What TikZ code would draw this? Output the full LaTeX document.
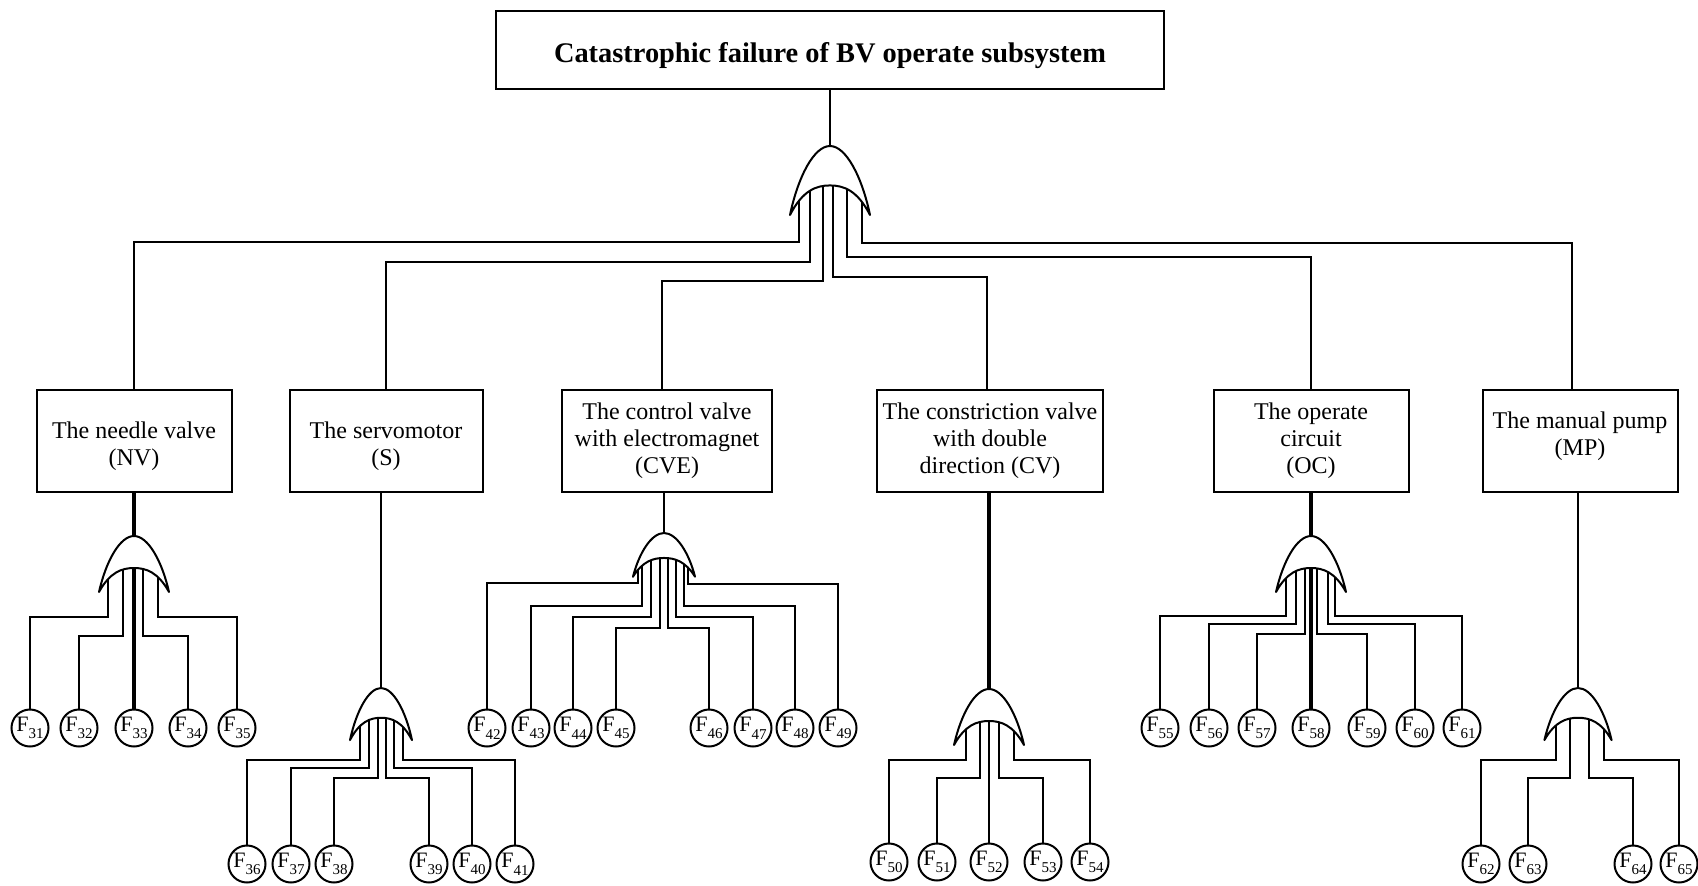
\documentclass[tikz,border=0pt]{standalone}
\usepackage{fontspec}
\setmainfont{Liberation Serif}
\usetikzlibrary{calc}

\newcommand{\fl}[1]{F\raisebox{-3.8pt}{\fontsize{7.5}{8}\selectfont #1}}

\begin{document}
\begin{tikzpicture}[x=0.5pt,y=-0.5pt,line width=1pt,
    unit/.style={draw,align=center,inner sep=2pt,minimum height=51pt,
      font=\fontsize{12}{13.5}\selectfont},
    fault/.style={draw,circle,inner sep=0pt,minimum size=18.5pt,
      font=\fontsize{11}{12}\selectfont},
    heavy/.style={line width=1.7pt},
    orgate/.pic={
      \filldraw[fill=white,line join=round] (-35,56)
        .. controls (-28,25) and (-14,0) .. (0,0)
        .. controls (14,0) and (28,25) .. (35,56)
        .. controls (24,36) and (12,32) .. (0,32)
        .. controls (-12,32) and (-24,36) .. cycle;}]
  \useasboundingbox (0,0) rectangle (1698,885);

  % Top event
  \node[draw,minimum width=334pt,minimum height=39pt,
    font=\fontsize{14.2}{16}\selectfont\bfseries] (top) at (830,50)
    {\rule{0pt}{15.2pt}Catastrophic failure of BV operate subsystem};
  \coordinate (gT) at (830,146);

  % Subsystems
  \node[unit,minimum width=97.5pt] (nv) at (134,441) {\rule{0pt}{13.6pt}The needle valve\\(NV)};
  \node[unit,minimum width=96.5pt] (s) at (386,441) {\rule{0pt}{13.6pt}The servomotor\\(S)};
  \node[unit,minimum width=105pt] (cve) at (667,441) {The control valve\\with electromagnet\\(CVE)};
  \node[unit,minimum width=113pt] (cv) at (990,441) {The constriction valve\\with double\\direction (CV)};
  \node[unit,minimum width=97.5pt] (oc) at (1311,441) {The operate\\circuit\\(OC)};
  \node[unit,minimum width=97.5pt] (mp) at (1580,441) {The manual pump\\(MP)\rule[-7.5pt]{0pt}{0pt}};

  % Top OR gate
  \draw (top.south -| gT) -- (gT);
  \foreach \d/\dx/\dy/\h/\sh in {nv/-31/49/96/0,s/-20/41/116/0,cve/-7/39/135/-2.5,
      cv/3/39/131/-1.5,oc/17/41/111/0,mp/32/47/97/-4}
    \draw ($(gT)+(\dx,\dy)$) -- ($(gT)+(\dx,\h)$) -| ([xshift=\sh pt]\d.north);
  \pic[xscale=1.143,yscale=1.232] at (gT) {orgate};

  % The needle valve
  \coordinate (gNV) at ($(nv.south)+(0,43)$);
  \foreach \n/\x in {31/30,32/79,33/134,34/188,35/237}
    \node[fault] (f\n) at (\x,728) {\fl{\n}};
  \foreach \n/\dx/\dy/\h in {31/-26/36/81,32/-11/33/100,34/9/32.5/100,35/24/36/81}
    \draw ($(gNV)+(\dx,\dy)$) -- ($(gNV)+(\dx,\h)$) -| (f\n);
  \draw[heavy] (nv.south -| gNV) -- (gNV);
  \draw[heavy] ($(gNV)+(0,32)$) -- (f33);
  \pic at (gNV) {orgate};

  % The servomotor
  \coordinate (gS) at ($(s.south)+(-5,195)$);
  \foreach \n/\x in {36/247,37/291,38/334,39/429,40/472,41/515}
    \node[fault] (f\n) at (\x,864) {\fl{\n}};
  \foreach \n/\dx/\dy/\h in {36/-21/33/72,37/-12/31/80,38/-3.3/29.5/90,
      39/4.7/29.5/90,40/13.3/31/80,41/22.3/33/72}
    \draw ($(gS)+(\dx,\dy)$) -- ($(gS)+(\dx,\h)$) -| (f\n);
  \draw (s.south -| gS) -- (gS);
  \pic[xscale=0.886,yscale=0.93] at (gS) {orgate};

  % The control valve with electromagnet
  \coordinate (gCVE) at ($(cve.south)+(-3,40)$);
  \foreach \n/\x in {42/487,43/531,44/573,45/616,46/709,47/753,48/795,49/838}
    \node[fault] (f\n) at (\x,728) {\fl{\n}};
  \foreach \n/\dx/\dy/\h in {42/-26.3/33/50,43/-22/27/73,44/-13/25/84,45/-4/24.8/94.7,
      46/3.7/24.8/94.7,47/11.7/25.5/84,48/19.7/26/73,49/24.3/30/50.7}
    \draw ($(gCVE)+(\dx,\dy)$) -- ($(gCVE)+(\dx,\h)$) -| (f\n);
  \draw (cve.south -| gCVE) -- (gCVE);
  \pic[xscale=0.886,yscale=0.78] at (gCVE) {orgate};

  % The constriction valve
  \coordinate (gCV) at ($(cv.south)+(-1,196)$);
  \foreach \n/\x in {50/889,51/937,52/989,53/1043,54/1090}
    \node[fault] (f\n) at (\x,862) {\fl{\n}};
  \foreach \n/\dx/\dy/\h in {50/-23.3/34/71,51/-8.6/32.5/89,53/10/33/89,54/24.7/35/71}
    \draw ($(gCV)+(\dx,\dy)$) -- ($(gCV)+(\dx,\h)$) -| (f\n);
  \draw[heavy] (cv.south -| gCV) -- (gCV);
  \draw ($(gCV)+(0,32)$) -- (f52);
  \pic at (gCV) {orgate};

  % The operate circuit
  \coordinate (gOC) at ($(oc.south)+(0,43)$);
  \foreach \n/\x in {55/1160,56/1209,57/1257,58/1311,59/1367,60/1415,61/1462}
    \node[fault] (f\n) at (\x,728) {\fl{\n}};
  \foreach \n/\dx/\dy/\h in {55/-25/36/80,56/-15/33.5/88,57/-6/32.3/98,
      59/6/32.3/98,60/16.6/34/88,61/24/36/80}
    \draw ($(gOC)+(\dx,\dy)$) -- ($(gOC)+(\dx,\h)$) -| (f\n);
  \draw[heavy] (oc.south -| gOC) -- (gOC);
  \draw[heavy] ($(gOC)+(0,32)$) -- (f58);
  \pic at (gOC) {orgate};

  % The manual pump
  \coordinate (gMP) at ($(mp.south)+(-2,195)$);
  \foreach \n/\x in {62/1481,63/1528,64/1633,65/1679}
    \node[fault] (f\n) at (\x,864) {\fl{\n}};
  \foreach \n/\dx/\dy/\h in {62/-21.6/33/72,63/-7.6/30.3/90,64/11/31/90,65/25.7/34/72}
    \draw ($(gMP)+(\dx,\dy)$) -- ($(gMP)+(\dx,\h)$) -| (f\n);
  \draw (mp.south -| gMP) -- (gMP);
  \pic[xscale=0.96,yscale=0.93] at (gMP) {orgate};
\end{tikzpicture}
\end{document}
